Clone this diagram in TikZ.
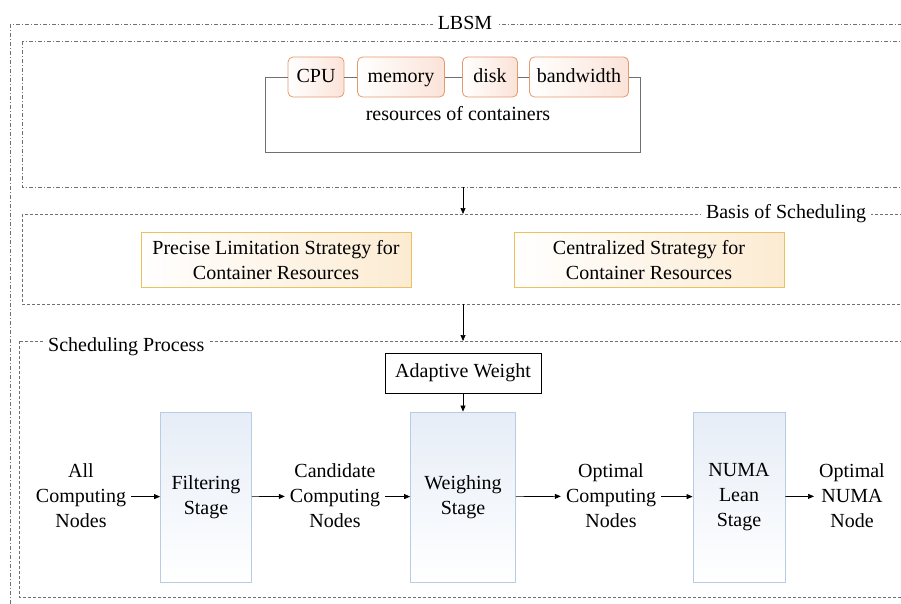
\documentclass[tikz,border=0pt]{standalone}
\usepackage{fontspec}
\setmainfont{Liberation Serif}
\usetikzlibrary{positioning,arrows.meta}

\definecolor{resline}{HTML}{E59A6E}
\definecolor{resfill}{HTML}{FBE3D8}
\definecolor{stratline}{HTML}{EBC25E}
\definecolor{stratfill}{HTML}{FCEBD2}
\definecolor{stageline}{HTML}{B8CCE4}
\definecolor{stagefill}{HTML}{E6EDF7}
\definecolor{frameline}{HTML}{707070}

\tikzset{
  txt/.style={font=\fontsize{20}{25}\selectfont, align=center, inner sep=1pt},
  flow/.style={txt, inner xsep=5pt},
  resbox/.style={txt, draw=resline, line width=0.8pt, rounded corners=5pt,
    left color=white, right color=resfill, minimum height=40pt, inner xsep=6pt,
    text height=14pt, text depth=4pt},
  stratbox/.style={txt, draw=stratline, line width=0.8pt,
    left color=white, right color=stratfill, minimum width=270pt, minimum height=55pt},
  stagebox/.style={txt, draw=stageline, line width=0.8pt,
    top color=stagefill, bottom color=white, minimum height=170pt},
  tag/.style={txt, fill=white, inner xsep=5pt},
  arr/.style={-{Triangle[length=6pt,width=5pt]}, line width=0.7pt},
  dashdotframe/.style={draw=frameline, line width=0.6pt, dash pattern=on 4pt off 2pt on 1pt off 2pt},
  dashframe/.style={draw=frameline, line width=0.6pt, dash pattern=on 3pt off 2pt},
}

\begin{document}
\begin{tikzpicture}[x=1pt, y=-1pt]
  \useasboundingbox (0,0) rectangle (901,603);
  \clip (0,0) rectangle (901,603);

  % Frames
  \draw[dashdotframe] (10,24) rectangle (930,630);
  \draw[dashdotframe] (22,41) rectangle (930,187);
  \draw[dashframe] (22,214) rectangle (930,304);
  \draw[dashframe] (19,341) rectangle (930,597);
  \node[tag] (lbsm) at (465,23) {LBSM};
  \node[tag] (basis) at (786,214) {Basis of Scheduling};
  \node[tag, anchor=west] (process) at (43,347) {Scheduling Process};

  % Resources of containers
  \node[resbox, minimum width=56pt] (cpu) at (316,77) {CPU};
  \node[resbox, minimum width=87pt] (mem) at (401,77) {memory};
  \node[resbox, minimum width=55pt] (disk) at (490,77) {disk};
  \node[resbox, minimum width=99pt] (bw) at (579,77) {bandwidth};
  \draw[frameline, line width=0.8pt] (cpu) -- (mem);
  \draw[frameline, line width=0.8pt] (mem) -- (disk);
  \draw[frameline, line width=0.8pt] (disk) -- (bw);
  \draw[frameline, line width=0.8pt] (cpu.west) -- ++(-22,0) -- ++(0,75) -- ++(375,0) -- ++(0,-75) -- (bw.east);
  \node[txt] (resources) at (458,114) {resources of containers};

  % Basis of scheduling
  \node[stratbox] (precise) at (276,260) {Precise Limitation Strategy for\\Container Resources};
  \node[stratbox] (central) at (649,260) {Centralized Strategy for\\Container Resources};

  % Links between frames
  \coordinate (lbsmS) at (463,187);
  \coordinate (basisN) at (463,214);
  \coordinate (basisS) at (463,304);
  \coordinate (processN) at (463,341);
  \draw[arr] (lbsmS) -- (basisN);
  \draw[arr] (basisS) -- (processN);

  % Scheduling process
  \node[txt, draw, line width=0.8pt, minimum width=156pt, minimum height=40pt] (adapt) at (463,373) {Adaptive Weight};
  \node[stagebox, minimum width=91pt] (filter) at (206,497) {Filtering\\Stage};
  \node[stagebox, minimum width=105pt] (weigh) at (463,497) {Weighing\\Stage};
  \node[stagebox, minimum width=92pt] (numa) at (739,497) {NUMA\\Lean\\Stage};
  \node[flow] (all) at (81,496) {All\\Computing\\Nodes};
  \node[flow] (cand) at (335,496) {Candidate\\Computing\\Nodes};
  \node[flow] (opt) at (611,496) {Optimal\\Computing\\Nodes};
  \node[flow] (optnuma) at (852,496) {Optimal\\NUMA\\Node};
  \draw[arr] (adapt) -- (weigh);
  \draw[arr] (all) -- (filter);
  \draw[arr] (filter) -- (cand);
  \draw[arr] (cand) -- (weigh);
  \draw[arr] (weigh) -- (opt);
  \draw[arr] (opt) -- (numa);
  \draw[arr] (numa) -- (optnuma);
\end{tikzpicture}
\end{document}
